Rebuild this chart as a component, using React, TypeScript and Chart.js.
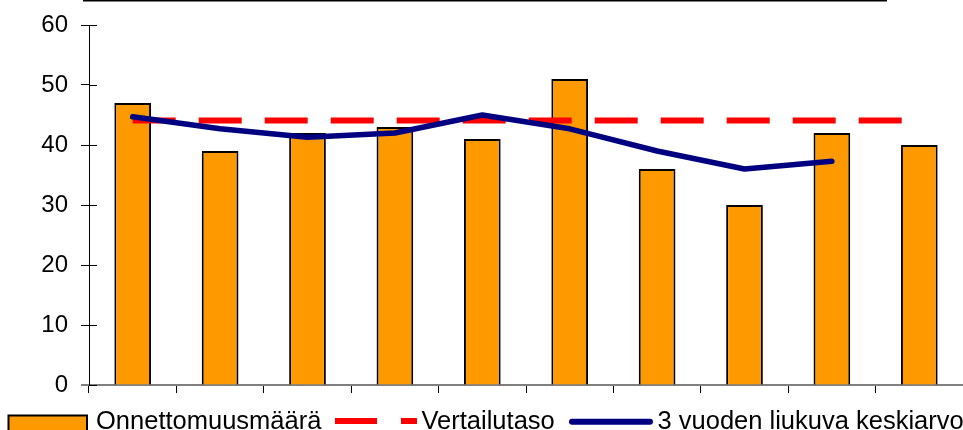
import React, { useEffect, useRef } from "react";
import { Chart, registerables } from "chart.js";

Chart.register(...registerables);

// Ten consecutive periods (labels are not shown on the axis)
const periods = ["1", "2", "3", "4", "5", "6", "7", "8", "9", "10"];
// Yearly accident counts
const accidents = [47, 39, 42, 43, 41, 51, 36, 30, 42, 40];
// Comparison level
const referenceLevel = [44.1, 44.1, 44.1, 44.1, 44.1, 44.1, 44.1, 44.1, 44.1, 44.1];
// Three-year moving average
const movingAverage = [44.7, 42.7, 41.3, 42.0, 45.0, 42.7, 39.0, 36.0, 37.3, null];
// Value axis
const yMin = 0;
const yMax = 60;
const yStep = 10;

const FONT = '"Liberation Sans", Arial, Helvetica, sans-serif';

// Cross ticks on the value axis, the axis stub left of it, the frame line on top and the legend row.
const decorations = {
  id: "decorations",
  afterDraw(chart: any) {
    const { ctx, chartArea, scales } = chart;
    const y = scales.y;
    const left = chartArea.left;
    ctx.save();

    // frame line at the very top
    ctx.fillStyle = "#000";
    ctx.fillRect(83, 0, 804, 1.5);

    // category axis stub to the left of the value axis
    ctx.strokeStyle = "#808080";
    ctx.lineWidth = 2;
    ctx.beginPath();
    ctx.moveTo(81, chartArea.bottom);
    ctx.lineTo(left, chartArea.bottom);
    ctx.stroke();

    // inner halves of the value-axis ticks
    ctx.strokeStyle = "#000";
    ctx.lineWidth = 1;
    for (let v = yMin; v <= yMax; v += yStep) {
      const py = Math.round(y.getPixelForValue(v)) + 0.5;
      ctx.beginPath();
      ctx.moveTo(left, py);
      ctx.lineTo(left + 8, py);
      ctx.stroke();
    }

    // legend
    const ds = chart.data.datasets;
    const baseline = 429;
    ctx.font = `25.5px ${FONT}`;
    ctx.textBaseline = "alphabetic";
    ctx.textAlign = "left";

    // bar sample
    ctx.fillStyle = "#FF9900";
    ctx.fillRect(8.5, 415.5, 78.5, 20);
    ctx.strokeStyle = "#000";
    ctx.lineWidth = 2;
    ctx.strokeRect(8.5, 415.5, 78.5, 20);
    ctx.fillStyle = "#000";
    ctx.fillText(ds[0].label, 96, baseline);

    // dashed line sample
    ctx.fillStyle = "#FF0000";
    ctx.fillRect(335, 418, 42, 6);
    ctx.fillRect(401, 418, 16, 6);
    ctx.fillStyle = "#000";
    ctx.fillText(ds[1].label, 421.5, baseline);

    // moving average sample
    ctx.strokeStyle = "#000080";
    ctx.lineWidth = 6;
    ctx.lineCap = "round";
    ctx.beginPath();
    ctx.moveTo(572, 421.7);
    ctx.lineTo(650, 421.7);
    ctx.stroke();
    ctx.fillStyle = "#000";
    ctx.fillText(ds[2].label, 657.5, baseline);

    ctx.restore();
  },
};

export default function App() {
  const canvasRef = useRef<HTMLCanvasElement | null>(null);

  useEffect(() => {
    const canvas = canvasRef.current;
    if (!canvas) return;
    const chart = new Chart(canvas, {
      type: "bar",
      data: {
        labels: periods,
        datasets: [
          {
            type: "bar",
            label: "Onnettomuusmäärä",
            data: accidents,
            backgroundColor: "#FF9900",
            borderColor: "#000",
            borderWidth: 2,
            barPercentage: 0.42,
            categoryPercentage: 1,
            order: 3,
          },
          {
            type: "line",
            label: "Vertailutaso",
            data: referenceLevel,
            borderColor: "#FF0000",
            borderWidth: 6,
            borderDash: [43, 23],
            borderCapStyle: "butt",
            pointRadius: 0,
            fill: false,
            order: 2,
          },
          {
            type: "line",
            label: "3 vuoden liukuva keskiarvo",
            data: movingAverage,
            borderColor: "#000080",
            borderWidth: 5.5,
            borderCapStyle: "round",
            borderJoinStyle: "round",
            pointRadius: 0,
            tension: 0,
            fill: false,
            order: 1,
          },
        ] as any,
      },
      options: {
        animation: false,
        responsive: false,
        maintainAspectRatio: false,
        layout: { padding: { top: 25, left: 0, right: 0, bottom: 0 } },
        plugins: {
          legend: { display: false },
          tooltip: { enabled: false },
        },
        scales: {
          x: {
            type: "category",
            offset: true,
            grid: {
              offset: true,
              drawOnChartArea: false,
              drawTicks: true,
              tickLength: 8,
              color: "#000",
              lineWidth: 1,
            },
            border: { display: true, color: "#808080", width: 2 },
            ticks: { display: false },
            afterFit(scale: any) {
              scale.height = 45;
            },
          },
          y: {
            min: yMin,
            max: yMax,
            grid: {
              drawOnChartArea: false,
              drawTicks: true,
              tickLength: 8,
              color: "#000",
              lineWidth: 1,
            },
            border: { display: true, color: "#000", width: 1 },
            ticks: {
              stepSize: yStep,
              color: "#000",
              padding: 13,
              font: { family: FONT, size: 24 },
            },
            afterFit(scale: any) {
              scale.width = 89;
              scale.paddingTop = 0;
              scale.paddingBottom = 0;
            },
          },
        },
      },
      plugins: [decorations],
    });
    return () => chart.destroy();
  }, []);

  return (
    <div
      style={{
        position: "fixed",
        left: 0,
        top: 0,
        width: 963,
        height: 430,
        background: "#fff",
      }}
    >
      <canvas
        ref={canvasRef}
        width={963}
        height={430}
        style={{ display: "block", width: 963, height: 430 }}
      />
    </div>
  );
}
